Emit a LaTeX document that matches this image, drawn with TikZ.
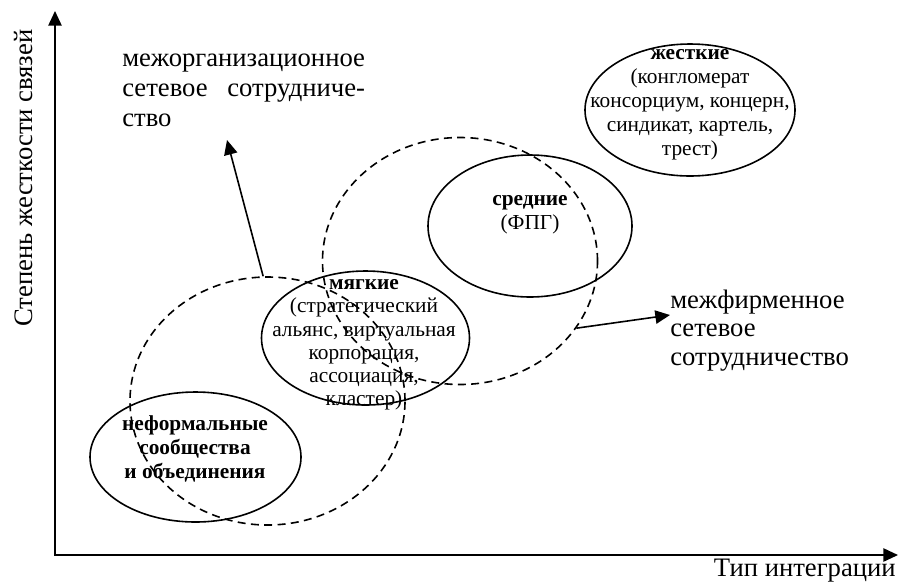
\documentclass[tikz,border=0pt]{standalone}
\usepackage{fontspec}
\setmainfont{Liberation Serif}
\usetikzlibrary{arrows.meta,shapes.geometric}
\begin{document}
\begin{tikzpicture}[x=0.75pt,y=-0.75pt,
  solidell/.style={ellipse, draw, line width=1.2pt, inner sep=0pt},
  dashell/.style={ellipse, draw, line width=1.2pt, inner sep=0pt, dash pattern=on 6pt off 4pt},
  lbl/.style={align=center, font=\fontsize{16}{18}\selectfont, inner sep=0pt},
  big/.style={font=\fontsize{20}{22.5}\selectfont, inner sep=0pt},
  arr/.style={line width=1.2pt, -{Triangle[length=11pt,width=10pt]}},
  axis/.style={line width=1.2pt, {Triangle[length=11pt,width=10pt]}-{Triangle[length=11pt,width=10pt]}}
]
\useasboundingbox (0,0) rectangle (899,587);

% axes
\coordinate (O) at (55,555);
\coordinate (ytip) at (55,11);
\coordinate (xtip) at (898,555);
\draw[axis] (ytip) -- (O) -- (xtip);
\node[big, rotate=90] (ylab) at (24,178) {Степень жесткости связей};
\node[big, anchor=east] (xlab) at (896,571) {Тип интеграции};

% dashed areas
\node[dashell, minimum width=206.25pt, minimum height=186pt] (A) at (267.5,401) {};
\node[dashell, minimum width=206.25pt, minimum height=185.25pt] (B) at (460,261) {};

% solid ellipses
\node[solidell, minimum width=158.25pt, minimum height=97.5pt] (inf) at (195.5,457) {};
\node[solidell, minimum width=156pt, minimum height=100.5pt] (soft) at (365.5,338) {};
\node[solidell, minimum width=153pt, minimum height=106.5pt] (med) at (530,226) {};
\node[solidell, minimum width=157.5pt, minimum height=99pt] (hard) at (690,110) {};

% ellipse texts
\node[lbl, font=\fontsize{16}{18}\selectfont\bfseries] (tinf) at (195,449) {неформальные\\сообщества\\и объединения};
\node[lbl, font=\fontsize{16}{17.4}\selectfont] (tsoft) at (364,345) {\textbf{мягкие}\\(стратегический\\альянс, виртуальная\\корпорация,\\ассоциация,\\кластер)};
\node[lbl] (tmed) at (530,214.5) {\textbf{средние}\\(ФПГ)};
\node[lbl] (thard) at (690,105) {\textbf{жесткие}\\(конгломерат\\консорциум, концерн,\\синдикат, картель,\\трест)};

% outer labels
\node[big, anchor=west] (torg) at (122,90) {\begin{tabular}{@{}l@{}}межорганизационное\\ сетевое\hfill сотрудниче-\\ ство\end{tabular}};
\node[big, anchor=west, align=left, font=\fontsize{20}{21.5}\selectfont] (tfirm) at (670,330.5) {межфирменное\\сетевое\\сотрудничество};

% arrows
\coordinate (orgtip) at (227,140);
\coordinate (firmtip) at (670,315);
\draw[arr] (A.92) -- (orgtip);
\draw[arr] (B.-30) -- (firmtip);
\end{tikzpicture}
\end{document}
